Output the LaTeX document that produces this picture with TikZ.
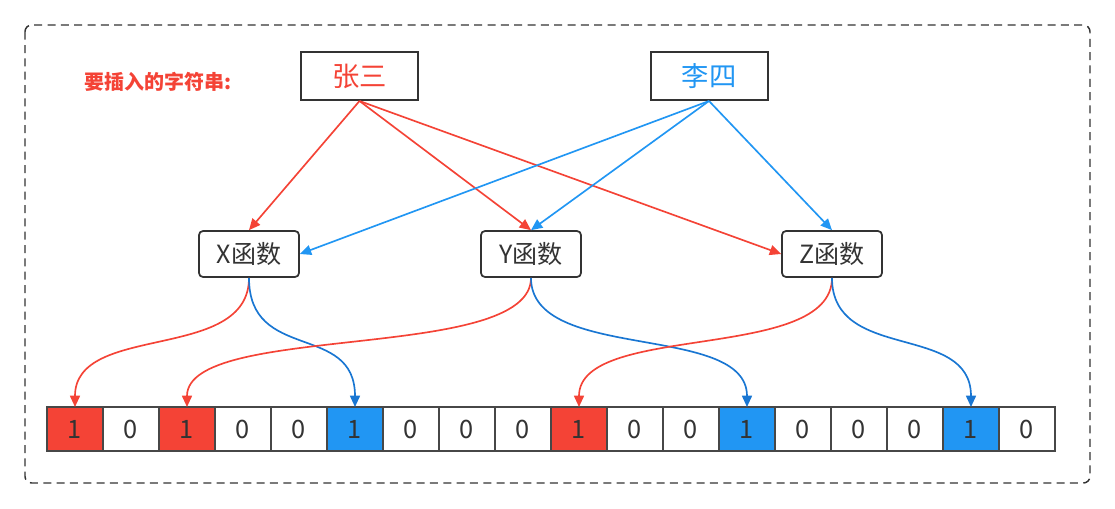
\documentclass[tikz,border=0pt]{standalone}
\usepackage{fontspec}
\setmainfont{Noto Sans CJK SC}
\usetikzlibrary{arrows.meta}
\definecolor{cred}{HTML}{F44336}
\definecolor{cblue}{HTML}{2196F3}
\definecolor{cdblue}{HTML}{1976D2}
\definecolor{cdark}{HTML}{333333}
\tikzset{
  inbox/.style={draw=cdark, line width=1.5pt, minimum width=87.75pt, minimum height=36pt, inner sep=0pt, font=\fontsize{20.5}{24}\selectfont},
  fnbox/.style={draw=cdark, line width=1.3pt, rounded corners=3pt, minimum width=75pt, minimum height=34.5pt, inner sep=0pt, text=cdark, font=\fontsize{18.8}{22}\selectfont, fill=white},
  cell/.style={draw=cdark!90, line width=1.2pt, minimum width=42pt, minimum height=33pt, inner sep=0pt, outer sep=0pt, text=cdark, font=\fontsize{19}{22}\selectfont},
  one/.style={cell, fill=#1},
  link/.style={line width=1.25pt, -{Triangle[length=8.5pt,width=7.5pt]}},
  curv/.style={link, to path={.. controls +(0,85) and +(0,-85) .. (\tikztotarget)}},
}
\begin{document}
\begin{tikzpicture}[x=0.75pt, y=-0.75pt]
\useasboundingbox (0,0) rectangle (1115,508);
\draw[cdark, line width=1.1pt, dash pattern=on 6pt off 4pt, rounded corners=5pt] (25,25) rectangle (1090,483);

\node[text=cred, font=\bfseries\fontsize{15}{18}\selectfont] (lbl) at (158,82) {要插入的字符串:};
\node[inbox, text=cred] (zs) at (359.5,76) {张三};
\node[inbox, text=cblue] (ls) at (709,76) {李四};

\node[fnbox] (X) at (249,254) {X函数};
\node[fnbox] (Y) at (531,254) {Y函数};
\node[fnbox] (Z) at (832,254) {Z函数};

\foreach \i/\b/\c in {0/1/cred,1/0/white,2/1/cred,3/0/white,4/0/white,5/1/cblue,6/0/white,7/0/white,8/0/white,9/1/cred,10/0/white,11/0/white,12/1/cblue,13/0/white,14/0/white,15/0/white,16/1/cblue,17/0/white}
  \node[one=\c] (c\i) at (75+56*\i,429) {\b};

\draw[link, cred] (zs.south) -- (X.north);
\draw[link, cred] (zs.south) -- (Y.north);
\draw[link, cred] (zs.south) -- (Z.west);
\draw[link, cblue] (ls.south) -- (X.east);
\draw[link, cblue] (ls.south) -- (Y.north);
\draw[link, cblue] (ls.south) -- (Z.north);

\draw[curv, cred] (X.south) to (c0.north);
\draw[curv, cdblue] (X.south) to (c5.north);
\draw[curv, cred] (Y.south) to (c2.north);
\draw[curv, cdblue] (Y.south) to (c12.north);
\draw[curv, cred] (Z.south) to (c9.north);
\draw[curv, cdblue] (Z.south) to (c16.north);
\end{tikzpicture}
\end{document}
